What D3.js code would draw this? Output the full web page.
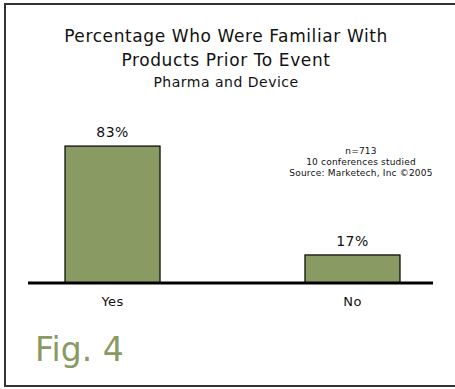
<!DOCTYPE html>
<html>
<head>
<meta charset="utf-8">
<script src="https://cdn.jsdelivr.net/npm/d3@7/dist/d3.min.js"></script>
<style>
  html, body { margin: 0; padding: 0; background: #fff; }
  svg { display: block; font-family: "DejaVu Sans", Verdana, sans-serif; }
</style>
</head>
<body>
<svg id="chart" width="455" height="389"></svg>
<script>
// Survey answers and their shares (percent)
const categories = ["Yes", "No"];
const values = [83, 17];
const titleLines = ["Percentage Who Were Familiar With", "Products Prior To Event"];
const subtitle = "Pharma and Device";
const notes = ["n=713", "10 conferences studied", "Source: Marketech, Inc \u00A92005"];
const figLabel = "Fig. 4";

const svg = d3.select("#chart");
const barFill = "#8a9a63";

// Outer frame (runs off the right edge)
svg.append("rect")
  .attr("x", 5).attr("y", 4)
  .attr("width", 470).attr("height", 382)
  .attr("fill", "none")
  .attr("stroke", "#333").attr("stroke-width", 2);

// Title block
const title = svg.append("text").attr("text-anchor", "middle").attr("fill", "#111")
  .attr("font-size", 17).attr("letter-spacing", 0.6);
titleLines.forEach((t, i) => {
  title.append("tspan").attr("x", 226).attr("y", 42 + i * 24).text(t);
});
svg.append("text").attr("x", 226).attr("y", 87)
  .attr("text-anchor", "middle").attr("font-size", 14).attr("letter-spacing", 0.5)
  .attr("fill", "#111").text(subtitle);

// Scales
const x = d3.scaleBand().domain(categories).range([65, 400])
  .paddingInner(0.604).paddingOuter(0);
const y = d3.scaleLinear().domain([0, 100]).range([283, 118]);

// Bars
svg.selectAll("rect.bar").data(values).join("rect")
  .attr("class", "bar")
  .attr("x", (d, i) => x(categories[i]))
  .attr("y", d => y(d))
  .attr("width", x.bandwidth())
  .attr("height", d => y(0) - y(d))
  .attr("fill", barFill)
  .attr("stroke", "#000").attr("stroke-width", 1.2);

// Value labels
svg.selectAll("text.val").data(values).join("text")
  .attr("class", "val")
  .attr("x", (d, i) => x(categories[i]) + x.bandwidth() / 2)
  .attr("y", d => y(d) - 9)
  .attr("text-anchor", "middle").attr("font-size", 14).attr("letter-spacing", 0.4)
  .attr("fill", "#111")
  .text(d => d + "%");

// Baseline axis with category labels
const axis = svg.append("g").attr("transform", `translate(0,${y(0)})`)
  .call(d3.axisBottom(x).tickSize(0).tickPadding(14));
axis.select(".domain").attr("d", "M28,0H433").attr("stroke", "#000").attr("stroke-width", 3);
axis.selectAll("text").attr("font-size", 13).attr("letter-spacing", 0.4)
  .attr("font-family", "DejaVu Sans, Verdana, sans-serif").attr("fill", "#111");

// Study notes
const note = svg.append("text").attr("text-anchor", "middle").attr("font-size", 9)
  .attr("letter-spacing", 0.2).attr("fill", "#111");
notes.forEach((t, i) => {
  note.append("tspan").attr("x", 361).attr("y", 154 + i * 11).text(t);
});

// Figure label
svg.append("text").attr("x", 35).attr("y", 361)
  .attr("font-size", 33).attr("fill", barFill).text(figLabel);
</script>
</body>
</html>
